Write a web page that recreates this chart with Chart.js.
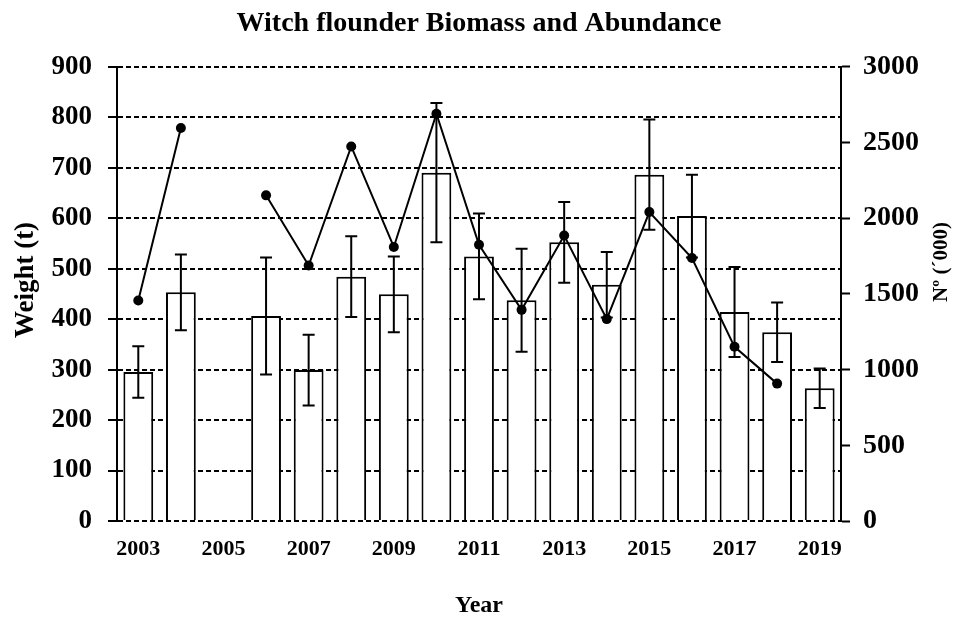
<!DOCTYPE html>
<html>
<head>
<meta charset="utf-8">
<title>Witch flounder Biomass and Abundance</title>
<script src="https://cdn.jsdelivr.net/npm/chart.js@4/dist/chart.umd.min.js"></script>
<style>
    body { margin: 0; background: #fff; }
    canvas { display: block; }
</style>
</head>
<body>
<canvas id="chart" width="958" height="620"></canvas>
<script>
const years = ['2003', '2004', '2005', '2006', '2007', '2008', '2009', '2010', '2011',
    '2012', '2013', '2014', '2015', '2016', '2017', '2018', '2019'];

// biomass (t), left axis
const biomass = [295, 453, null, 406, 299, 484, 449, 690, 524, 437, 552, 468, 686, 604, 414, 374, 263];
// half width of the error bars (t)
const biomassErr = [51, 75, null, 116, 70, 80, 75, 138, 85, 102, 80, 65, 109, 82, 89, 59, 39];
// abundance, N (thousands), right axis
const abundance = [1456, 2595, null, 2150, 1687, 2473, 1809, 2689, 1824, 1394, 1885, 1333, 2040, 1736, 1150, 907, null];

const leftTicks = [0, 100, 200, 300, 400, 500, 600, 700, 800, 900];
const rightTicks = [0, 500, 1000, 1500, 2000, 2500, 3000];

const FONT = "'Liberation Serif', 'Times New Roman', serif";

// error bars on the biomass columns, drawn right after the bars so the line sits on top
const errorBars = {
    id: 'errorBars',
    afterDatasetDraw(chart, args) {
        if (args.index !== 0) return;
        const ctx = chart.ctx;
        const y = chart.scales.y;
        const cap = 6;
        ctx.save();
        ctx.strokeStyle = '#000';
        ctx.lineWidth = 2;
        args.meta.data.forEach((bar, i) => {
            if (biomass[i] == null) return;
            const top = y.getPixelForValue(biomass[i] + biomassErr[i]);
            const bot = y.getPixelForValue(biomass[i] - biomassErr[i]);
            ctx.beginPath();
            ctx.moveTo(bar.x, top);
            ctx.lineTo(bar.x, bot);
            ctx.moveTo(bar.x - cap, top);
            ctx.lineTo(bar.x + cap, top);
            ctx.moveTo(bar.x - cap, bot);
            ctx.lineTo(bar.x + cap, bot);
            ctx.stroke();
        });
        ctx.restore();
    }
};

// both vertical axis titles read bottom to top
const sideTitles = {
    id: 'sideTitles',
    afterDraw(chart) {
        const ctx = chart.ctx;
        ctx.save();
        ctx.fillStyle = '#000';
        ctx.textAlign = 'center';
        ctx.textBaseline = 'middle';
        [['Weight (t)', 26, 280, 27], ['Nº (´000)', 942, 262, 21]].forEach(([text, x, y, size]) => {
            ctx.save();
            ctx.font = `bold ${size}px ${FONT}`;
            ctx.translate(x, y);
            ctx.rotate(-Math.PI / 2);
            ctx.fillText(text, 0, 0);
            ctx.restore();
        });
        ctx.restore();
    }
};

new Chart(document.getElementById('chart').getContext('2d'), {
    data: {
        labels: years,
        datasets: [
            {
                type: 'bar',
                label: 'Biomass',
                data: biomass,
                yAxisID: 'y',
                backgroundColor: '#fff',
                borderColor: '#000',
                borderWidth: 2,
                barPercentage: 0.7,
                categoryPercentage: 1,
                order: 2
            },
            {
                type: 'line',
                label: 'Abundance',
                data: abundance,
                yAxisID: 'y2',
                borderColor: '#000',
                borderWidth: 2,
                backgroundColor: '#000',
                pointRadius: 5,
                pointBackgroundColor: '#000',
                pointBorderWidth: 0,
                spanGaps: false,
                tension: 0,
                order: 1
            }
        ]
    },
    options: {
        responsive: false,
        animation: false,
        layout: { padding: 0 },
        plugins: {
            legend: { display: false },
            tooltip: { enabled: false },
            title: {
                display: true,
                text: 'Witch flounder Biomass and Abundance',
                color: '#000',
                font: { family: FONT, size: 28, weight: 'bold' },
                padding: { top: 7, bottom: 26 }
            }
        },
        scales: {
            x: {
                grid: { display: false },
                border: { display: false },
                ticks: {
                    color: '#000',
                    font: { family: FONT, size: 22, weight: 'bold' },
                    autoSkip: false,
                    maxRotation: 0,
                    padding: 7,
                    callback: (v, i) => (i % 2 === 0 ? years[i] : '')
                },
                title: {
                    display: true,
                    text: 'Year',
                    color: '#000',
                    font: { family: FONT, size: 24, weight: 'bold' },
                    padding: { top: 0, bottom: 0 }
                },
                afterFit: s => { s.height = 99; }
            },
            y: {
                position: 'left',
                min: 0,
                max: 900,
                afterBuildTicks: s => { s.ticks = leftTicks.map(v => ({ value: v })); },
                grid: {
                    color: '#000',
                    lineWidth: 2,
                    tickLength: 9,
                    tickWidth: 2
                },
                border: { display: true, color: '#000', width: 2, dash: [5, 3] },
                ticks: {
                    color: '#000',
                    font: { family: FONT, size: 27, weight: 'bold' },
                    padding: 16
                },
                afterFit: s => { s.width = 117; }
            },
            y2: {
                position: 'right',
                min: 0,
                max: 3000,
                afterBuildTicks: s => { s.ticks = rightTicks.map(v => ({ value: v })); },
                grid: {
                    drawOnChartArea: false,
                    color: '#000',
                    tickLength: 9,
                    tickWidth: 2
                },
                border: { display: true, color: '#000', width: 2 },
                ticks: {
                    color: '#000',
                    font: { family: FONT, size: 28, weight: 'bold' },
                    padding: 13,
                    callback: v => String(v)
                },
                afterFit: s => { s.width = 117; }
            }
        }
    },
    plugins: [errorBars, sideTitles]
});
</script>
</body>
</html>
